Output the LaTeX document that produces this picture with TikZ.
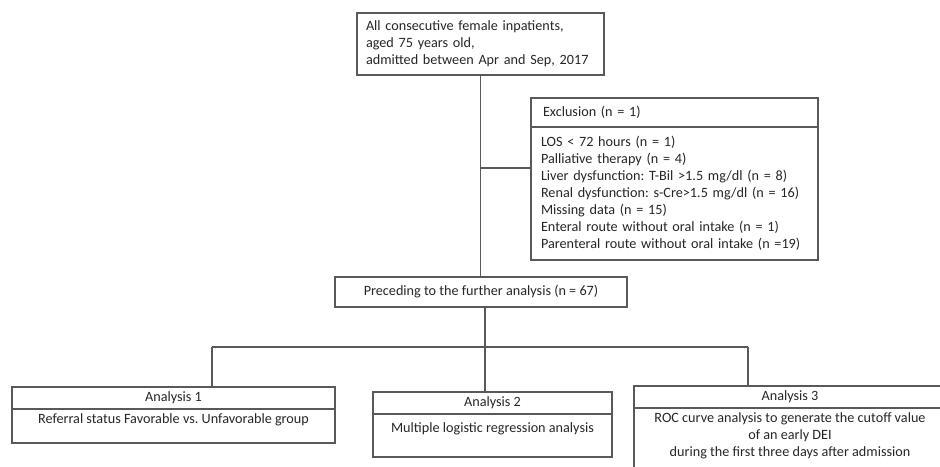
\documentclass[tikz,border=0pt]{standalone}
\usepackage{fontspec}
\setmainfont{Carlito}
\usepackage{tikz}
\frenchspacing
\tikzset{every node/.style={draw=black!65,line width=1.2pt,text=black!85,inner xsep=10pt,inner ysep=3pt,outer sep=0pt}}
\tikzset{ln/.style={draw=black!65,line width=1.2pt}}
\tikzset{hd/.style={minimum height=22pt,align=center}}
\tikzset{bd/.style={align=center,text height=11pt,text depth=17pt}}
\usetikzlibrary{positioning}

\begin{document}
\begin{tikzpicture}[font=\fontsize{14.2}{17}\selectfont,x=1pt,y=-1pt]
\useasboundingbox (0,0) rectangle (940,466);
\clip (0,0) rectangle (940,466);
\node[align=left,text width=229pt,inner xsep=9pt,minimum height=62pt](all) at (480.5,44) {All consecutive female inpatients,\\aged 75 years old,\\admitted between Apr and Sep, 2017};
\node[align=left,text width=263pt,inner xsep=12pt,minimum height=29pt](exh) at (674.5,112.5) {Exclusion (n = 1)};
\node[align=left,text width=267pt,minimum height=133pt,below=0pt of exh](exb) {LOS < 72 hours (n = 1)\\Palliative therapy (n = 4)\\Liver dysfunction: T-Bil >1.5 mg/dl (n = 8)\\Renal dysfunction: s-Cre>1.5 mg/dl (n = 16)\\Missing data (n = 15)\\Enteral route without oral intake (n = 1)\\Parenteral route without oral intake (n =19)};
\node[minimum width=292pt,minimum height=30pt](pre) at (481,292) {Preceding to the further analysis (n = 67)};

\node[hd,minimum width=323pt](a1h) at (173.5,398) {Analysis 1};
\node[bd,minimum width=323pt,below=0pt of a1h](a1b) {Referral status Favorable vs. Unfavorable group};
\node[hd,minimum width=239pt](a2h) at (492.5,403) {Analysis 2};
\node[bd,minimum width=239pt,text height=15pt,text depth=22pt,below=0pt of a2h](a2b) {Multiple logistic regression analysis};
\node[hd,minimum width=312pt](a3h) at (790,397) {Analysis 3};
\node[bd,minimum width=312pt,text height=45pt,text depth=20pt,below=0pt of a3h](a3b) {ROC curve analysis to generate the cutoff value\\of an early DEI\\during the first three days after admission};

\coordinate (b) at (481,168);
\coordinate (j) at (485,347);
\coordinate (j1) at (212,347);
\coordinate (j3) at (748,347);

\draw[ln] (all.south) -- (all.south |- pre.north);
\draw[ln] (b) -- (b -| exb.west);
\draw[ln] (pre.south -| j) -- (j);
\draw[ln] (j1) -- (j3);
\draw[ln] (j1) -- (j1 |- a1h.north);
\draw[ln] (j) -- (j |- a2h.north);
\draw[ln] (j3) -- (j3 |- a3h.north);

    \end{tikzpicture}
\end{document}
